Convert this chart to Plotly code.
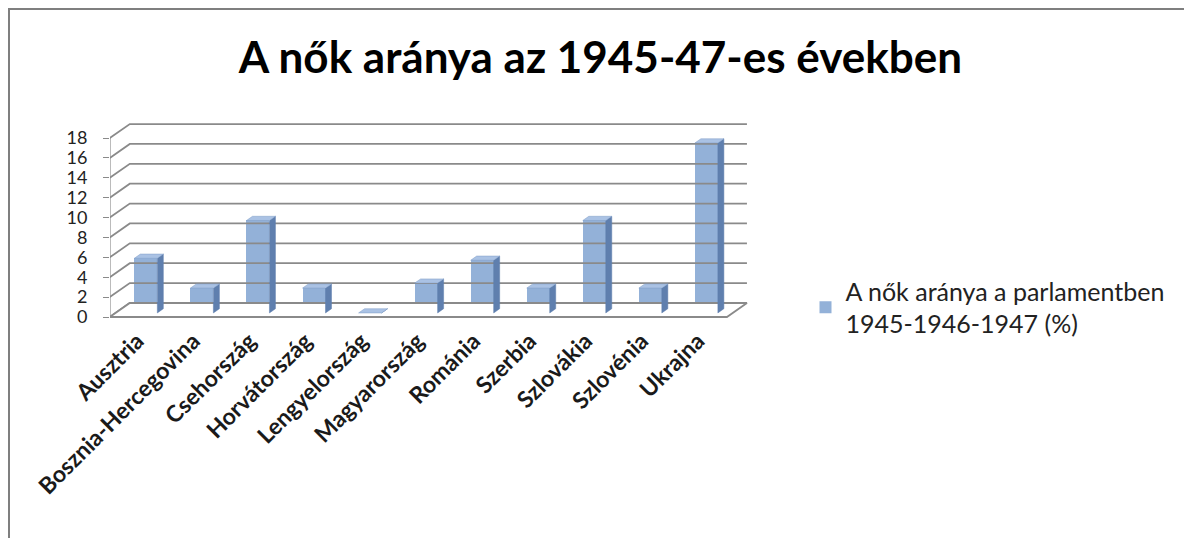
import plotly.graph_objects as go

# data (values in %)
countries = [
    "Ausztria", "Bosznia-Hercegovina", "Csehország", "Horvátország",
    "Lengyelország", "Magyarország", "Románia", "Szerbia",
    "Szlovákia", "Szlovénia", "Ukrajna",
]
women_share = [5.5, 2.5, 9.3, 2.5, 0, 3.0, 5.3, 2.5, 9.3, 2.5, 17.1]
y_ticks = [0, 2, 4, 6, 8, 10, 12, 14, 16, 18]

title_text = "A nők aránya az 1945-47-es években"
series_name = "A nők aránya a parlamentben<br>1945-1946-1947 (%)"

FONT = "Lato"
GRID = "#8a8a8a"
FRONT = "#93b1d8"
SIDE = "#5f7fae"
TOP = "#aac2e4"

# pseudo 3D geometry (category units / value units)
dx, dy = 0.357, 1.41        # depth vector of the floor
c_left, c_right = -0.54, 10.47
f1, f2 = 0.29, 0.59          # bar depth span
bar_w = 0.41

x_pos = list(range(len(countries)))
fig = go.Figure()

# back wall gridlines + connectors to the front axis
gx, gy = [], []
for v in y_ticks:
    gx += [c_left, c_left + dx, c_right + dx, None]
    gy += [v, v + dy, v + dy, None]
fig.add_trace(go.Scatter(x=gx, y=gy, mode="lines", line=dict(color=GRID, width=1.8),
                         hoverinfo="skip", showlegend=False))

# floor
fig.add_trace(go.Scatter(
    x=[c_left, c_right, c_right + dx, c_left + dx, c_left],
    y=[0, 0, dy, dy, 0], mode="lines", fill="toself", fillcolor="white",
    line=dict(color=GRID, width=1.8), hoverinfo="skip", showlegend=False))

# front value axis
fig.add_trace(go.Scatter(x=[c_left, c_left], y=[y_ticks[0], y_ticks[-1]], mode="lines",
                         line=dict(color=GRID, width=1.6), hoverinfo="skip",
                         showlegend=False))

base = f1 * dy
shift = f1 * dx
t = f2 - f1
bx = [c + shift for c in x_pos]

fig.add_trace(go.Bar(
    x=bx, y=women_share, base=base, width=bar_w, name=series_name,
    marker=dict(color=FRONT, line=dict(width=0)),
))

sx, sy, tx, ty = [], [], [], []
for c, v in zip(bx, women_share):
    xl, xr = c - bar_w / 2, c + bar_w / 2
    top = base + v
    sx += [xr, xr + t * dx, xr + t * dx, xr, xr, None]
    sy += [base, base + t * dy, top + t * dy, top, base, None]
    tx += [xl, xr, xr + t * dx, xl + t * dx, xl, None]
    ty += [top, top, top + t * dy, top + t * dy, top, None]

fig.add_trace(go.Scatter(x=sx, y=sy, mode="lines", fill="toself", fillcolor=SIDE,
                         line=dict(color=SIDE, width=0.5), hoverinfo="skip",
                         showlegend=False))
fig.add_trace(go.Scatter(x=tx, y=ty, mode="lines", fill="toself", fillcolor=TOP,
                         line=dict(color="#7f9cc6", width=0.5), hoverinfo="skip",
                         showlegend=False))

# page has an 8px body margin: plot area on the page is x 110..760, y 110..322
fig.update_layout(
    width=1192, height=538,
    margin=dict(l=102, r=440, t=102, b=224, autoexpand=False),
    paper_bgcolor="white", plot_bgcolor="white",
    font=dict(family=FONT, color="black"),
    title=dict(text="<b>" + title_text + "</b>", x=0.497, xanchor="center",
               y=0.907, yanchor="middle", font=dict(size=44, family=FONT)),
    showlegend=True,
    legend=dict(x=1.07, xanchor="left", y=0.07, yanchor="middle",
                font=dict(size=25, family=FONT, color="#222"),
                bgcolor="rgba(0,0,0,0)"),
    bargap=0,
)
fig.update_xaxes(range=[-0.536, 11.06], tickvals=[c - 0.05 for c in x_pos],
                 automargin=False,
                 ticktext=["<b>" + c + "</b>" for c in countries], tickangle=-45,
                 showgrid=False, zeroline=False, showline=False, ticks="",
                 tickfont=dict(size=23, family=FONT, color="#1a1a1a"))
fig.update_yaxes(range=[-0.503, 20.825], tickvals=y_ticks, automargin=False,
                 showgrid=False, zeroline=False, showline=False, ticks="outside",
                 ticklen=6, tickcolor=GRID,
                 tickfont=dict(size=18, family=FONT, color="#222"))
fig.update_yaxes(ticklabelstandoff=12)

# outer chart frame
fig.add_shape(type="rect", xref="paper", yref="paper",
              x0=(1 - 102) / 650, x1=(1200 - 102) / 650,
              y0=(314 - 560) / 212, y1=(314 - 1) / 212,
              line=dict(color="#7f7f7f", width=2), layer="below")

fig.write_html("out.html")
